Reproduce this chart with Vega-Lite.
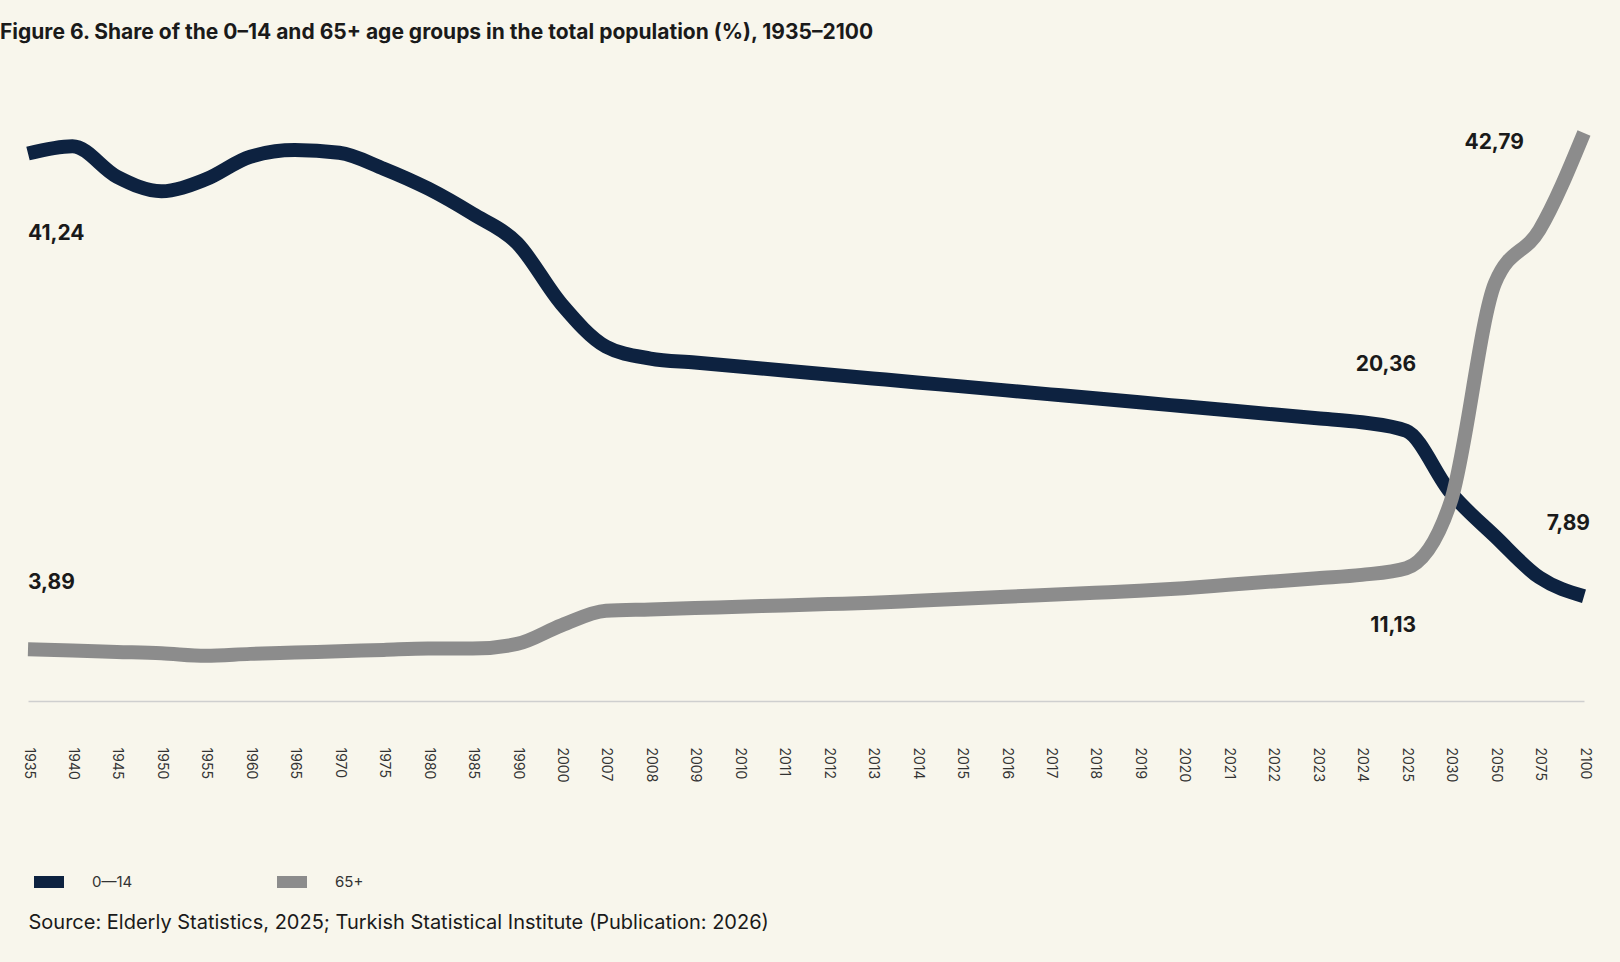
{
  "$schema": "https://vega.github.io/schema/vega-lite/v6.json",
  "width": 1556,
  "height": 600,
  "padding": {"top": 22, "left": 0, "right": 40, "bottom": 30},
  "background": "#f8f6ec",
  "config": {"view": {"stroke": null}, "font": "Inter"},
  "title": {"text": "Figure 6. Share of the 0–14 and 65+ age groups in the total population (%), 1935–2100", "anchor": "start", "fontSize": 21, "fontWeight": "bold", "color": "#1a1a1a", "offset": 58},
  "data": {"values": [
    {"year": "1935", "g": "0—14", "v": 41.24}, {"year": "1940", "g": "0—14", "v": 41.8}, {"year": "1945", "g": "0—14", "v": 39.5}, {"year": "1950", "g": "0—14", "v": 38.4}, {"year": "1955", "g": "0—14", "v": 39.3},
    {"year": "1960", "g": "0—14", "v": 41.0}, {"year": "1965", "g": "0—14", "v": 41.5}, {"year": "1970", "g": "0—14", "v": 41.3}, {"year": "1975", "g": "0—14", "v": 40.1}, {"year": "1980", "g": "0—14", "v": 38.6},
    {"year": "1985", "g": "0—14", "v": 36.7}, {"year": "1990", "g": "0—14", "v": 34.5}, {"year": "2000", "g": "0—14", "v": 29.9}, {"year": "2007", "g": "0—14", "v": 26.7}, {"year": "2008", "g": "0—14", "v": 25.8},
    {"year": "2009", "g": "0—14", "v": 25.5}, {"year": "2010", "g": "0—14", "v": 25.2}, {"year": "2011", "g": "0—14", "v": 24.9}, {"year": "2012", "g": "0—14", "v": 24.6}, {"year": "2013", "g": "0—14", "v": 24.3},
    {"year": "2014", "g": "0—14", "v": 24.0}, {"year": "2015", "g": "0—14", "v": 23.7}, {"year": "2016", "g": "0—14", "v": 23.4}, {"year": "2017", "g": "0—14", "v": 23.1}, {"year": "2018", "g": "0—14", "v": 22.8},
    {"year": "2019", "g": "0—14", "v": 22.5}, {"year": "2020", "g": "0—14", "v": 22.2}, {"year": "2021", "g": "0—14", "v": 21.9}, {"year": "2022", "g": "0—14", "v": 21.6}, {"year": "2023", "g": "0—14", "v": 21.3},
    {"year": "2024", "g": "0—14", "v": 21.0}, {"year": "2025", "g": "0—14", "v": 20.36}, {"year": "2030", "g": "0—14", "v": 15.7}, {"year": "2050", "g": "0—14", "v": 12.4}, {"year": "2075", "g": "0—14", "v": 9.3},
    {"year": "2100", "g": "0—14", "v": 7.89},
    {"year": "1935", "g": "65+", "v": 3.89}, {"year": "1940", "g": "65+", "v": 3.8}, {"year": "1945", "g": "65+", "v": 3.7}, {"year": "1950", "g": "65+", "v": 3.6}, {"year": "1955", "g": "65+", "v": 3.4},
    {"year": "1960", "g": "65+", "v": 3.55}, {"year": "1965", "g": "65+", "v": 3.65}, {"year": "1970", "g": "65+", "v": 3.75}, {"year": "1975", "g": "65+", "v": 3.85}, {"year": "1980", "g": "65+", "v": 3.95},
    {"year": "1985", "g": "65+", "v": 3.95}, {"year": "1990", "g": "65+", "v": 4.3}, {"year": "2000", "g": "65+", "v": 5.7}, {"year": "2007", "g": "65+", "v": 6.8}, {"year": "2008", "g": "65+", "v": 6.9},
    {"year": "2009", "g": "65+", "v": 7.0}, {"year": "2010", "g": "65+", "v": 7.1}, {"year": "2011", "g": "65+", "v": 7.2}, {"year": "2012", "g": "65+", "v": 7.3}, {"year": "2013", "g": "65+", "v": 7.4},
    {"year": "2014", "g": "65+", "v": 7.55}, {"year": "2015", "g": "65+", "v": 7.7}, {"year": "2016", "g": "65+", "v": 7.85}, {"year": "2017", "g": "65+", "v": 8.0}, {"year": "2018", "g": "65+", "v": 8.15},
    {"year": "2019", "g": "65+", "v": 8.3}, {"year": "2020", "g": "65+", "v": 8.5}, {"year": "2021", "g": "65+", "v": 8.75}, {"year": "2022", "g": "65+", "v": 9.0}, {"year": "2023", "g": "65+", "v": 9.25},
    {"year": "2024", "g": "65+", "v": 9.5}, {"year": "2025", "g": "65+", "v": 10.0}, {"year": "2030", "g": "65+", "v": 15.0}, {"year": "2050", "g": "65+", "v": 31.5}, {"year": "2075", "g": "65+", "v": 35.5},
    {"year": "2100", "g": "65+", "v": 42.79}
  ]},
  "encoding": {
    "x": {"field": "year", "type": "ordinal", "sort": null, "scale": {"type": "point", "padding": 0},
      "axis": {"title": "Source: Elderly Statistics, 2025; Turkish Statistical Institute (Publication: 2026)", "titleAnchor": "start", "titleAlign": "left", "titleFontSize": 20, "titleFontWeight": "normal", "titleColor": "#1a1a1a", "titlePadding": 130,
        "labelAngle": 90, "labelAlign": "left", "labelBaseline": "middle", "labelFontSize": 14, "labelColor": "#333", "labelPadding": 46, "ticks": false, "domainColor": "#cfcfcf", "domainWidth": 1.5}},
    "y": {"field": "v", "type": "quantitative", "scale": {"domain": [0, 45.2], "nice": false}, "axis": null}
  },
  "layer": [
    {"mark": {"type": "line", "strokeWidth": 14, "interpolate": "monotone", "strokeCap": "butt"},
      "encoding": {"color": {"field": "g", "type": "nominal", "scale": {"domain": ["0—14", "65+"], "range": ["#0d2240", "#8c8c8c"]},
        "legend": {"title": null, "orient": "none", "legendX": 0, "legendY": 760, "direction": "horizontal", "symbolType": "stroke", "symbolSize": 900, "symbolStrokeWidth": 12, "labelFontSize": 15, "labelColor": "#333", "columnPadding": 120, "labelOffset": 22}}}},
    {"data": {"values": [{"year": "1935", "v": 41.24, "t": "41,24"}]},
      "mark": {"type": "text", "align": "left", "fontSize": 21, "fontWeight": "bold", "color": "#1a1a1a", "dy": 80},
      "encoding": {"text": {"field": "t"}}},
    {"data": {"values": [{"year": "1935", "v": 3.89, "t": "3,89"}]},
      "mark": {"type": "text", "align": "left", "fontSize": 21, "fontWeight": "bold", "color": "#1a1a1a", "dy": -66},
      "encoding": {"text": {"field": "t"}}},
    {"data": {"values": [{"year": "2025", "v": 20.36, "t": "20,36"}]},
      "mark": {"type": "text", "align": "right", "fontSize": 21, "fontWeight": "bold", "color": "#1a1a1a", "dy": -66, "dx": 10},
      "encoding": {"text": {"field": "t"}}},
    {"data": {"values": [{"year": "2025", "v": 10.0, "t": "11,13"}]},
      "mark": {"type": "text", "align": "right", "fontSize": 21, "fontWeight": "bold", "color": "#1a1a1a", "dy": 58, "dx": 10},
      "encoding": {"text": {"field": "t"}}},
    {"data": {"values": [{"year": "2100", "v": 42.79, "t": "42,79"}]},
      "mark": {"type": "text", "align": "right", "fontSize": 21, "fontWeight": "bold", "color": "#1a1a1a", "dy": 10, "dx": -60},
      "encoding": {"text": {"field": "t"}}},
    {"data": {"values": [{"year": "2100", "v": 7.89, "t": "7,89"}]},
      "mark": {"type": "text", "align": "right", "fontSize": 21, "fontWeight": "bold", "color": "#1a1a1a", "dy": -72, "dx": 6},
      "encoding": {"text": {"field": "t"}}}
  ]
}
